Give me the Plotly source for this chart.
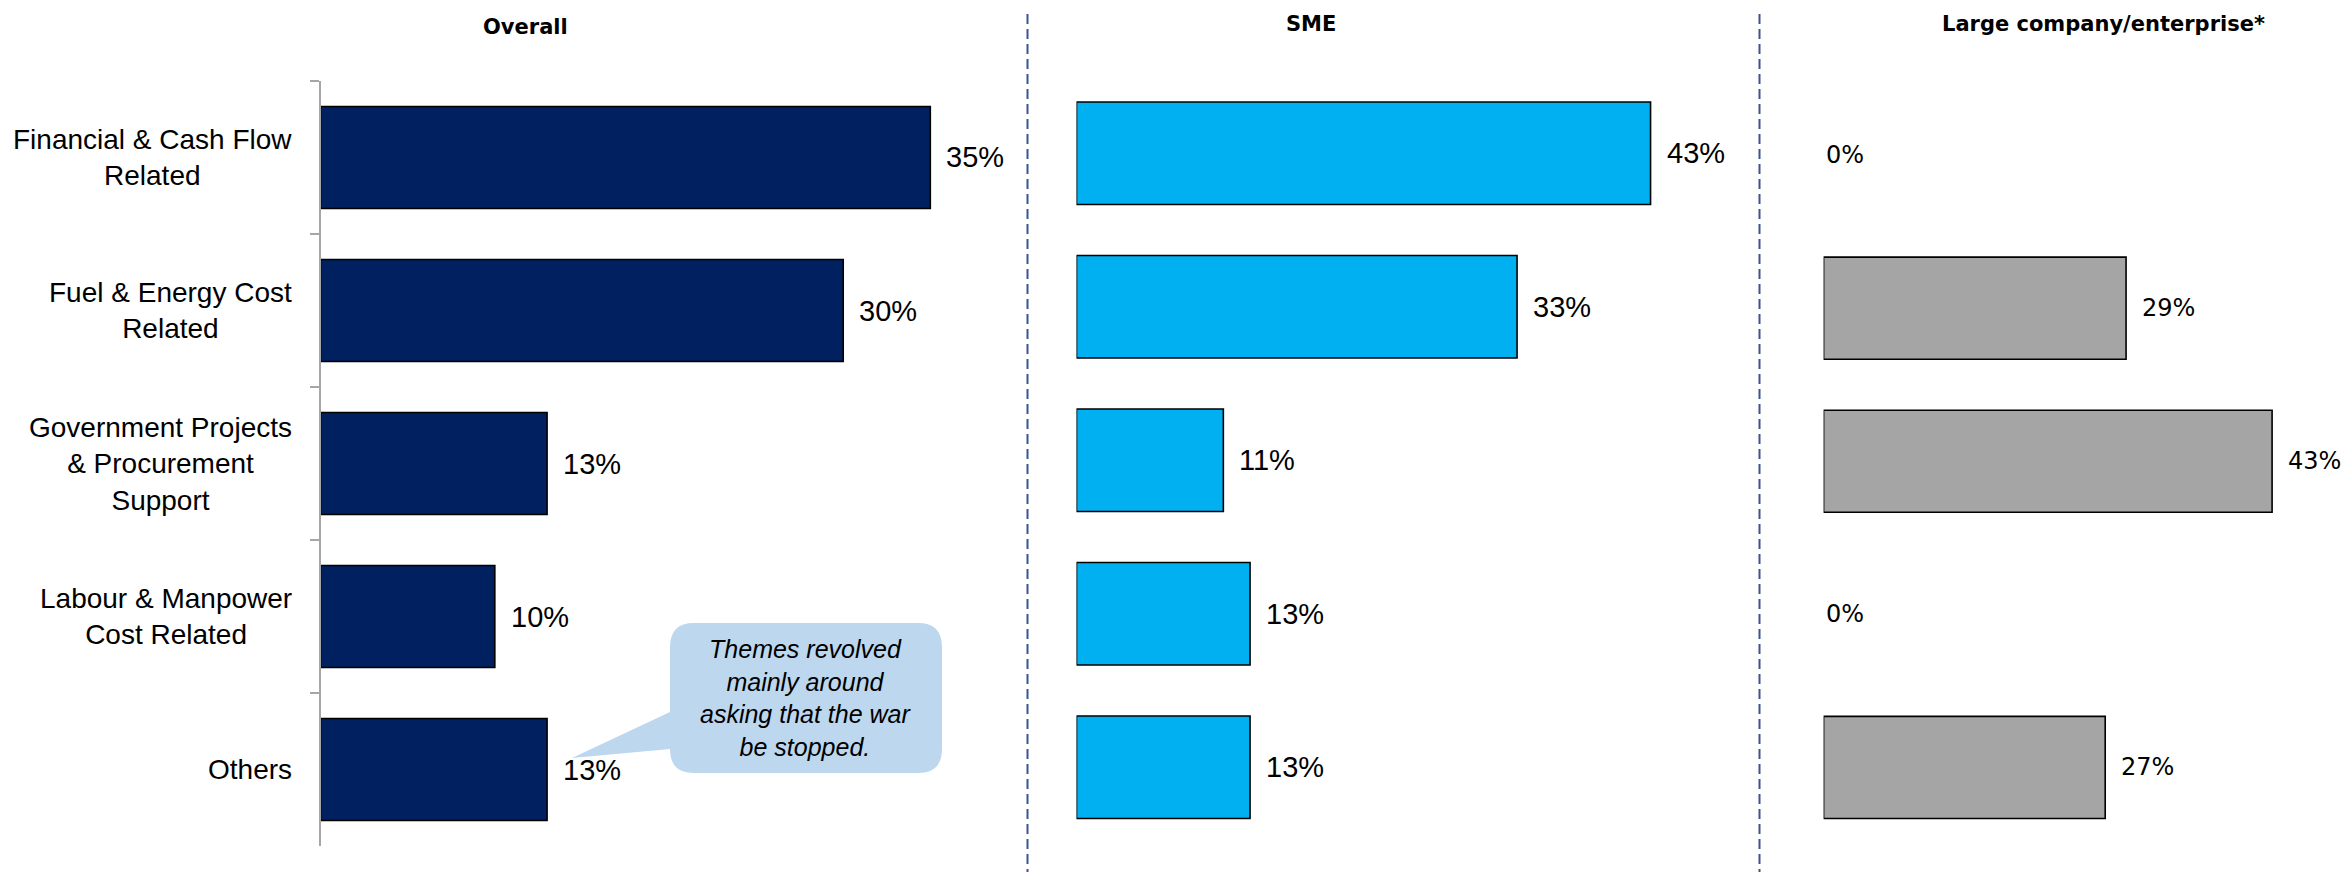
import plotly.graph_objects as go

# ---- data -------------------------------------------------------------
categories = [
    "Financial & Cash Flow<br>Related",
    "Fuel & Energy Cost<br>Related",
    "Government Projects<br>& Procurement<br>Support",
    "Labour & Manpower<br>Cost Related",
    "Others",
]
overall = [35, 30, 13, 10, 13]
sme = [43, 33, 11, 13, 13]
large = [0, 29, 43, 0, 27]

panel_titles = ["Overall", "SME", "Large company/enterprise*"]
callout_text = "Themes revolved<br>mainly around<br>asking that the war<br>be stopped."

# ---- page geometry (pixels) -------------------------------------------
W, H = 2348, 872


def fx(p):
    return p / W


def fy(p):
    return 1 - p / H


NAVY = "#002060"
CYAN = "#00B0F0"
GREY = "#A5A5A5"
SEP = "#3B5394"
AXIS_GREY = "#A6A6A6"

CAT_FONT = dict(family="Liberation Sans, Arial, sans-serif", size=28, color="black")
VALUE_FONT = dict(family="Liberation Sans, Arial, sans-serif", size=29, color="black")
LARGE_FONT = dict(family="DejaVu Sans, Verdana, sans-serif", size=24, color="black")
TITLE_FONT = dict(family="DejaVu Sans, Verdana, sans-serif", size=21, color="black")

# each panel: values, colour, x-domain in px, x-range, y-domain in px, label font
panels = [
    dict(values=overall, color=NAVY, xdom=(320.6, 1000.0), xmax=39.0, ydom=(81, 846), font=VALUE_FONT),
    dict(values=sme, color=CYAN, xdom=(1076.5, 1690.6), xmax=46.0, ydom=(76.5, 844), font=VALUE_FONT),
    dict(values=large, color=GREY, xdom=(1823.6, 2345.1), xmax=50.0, ydom=(78.5, 844), font=LARGE_FONT),
]

fig = go.Figure()
annotations = []

for i, p in enumerate(panels, start=1):
    xa = "x" if i == 1 else f"x{i}"
    ya = "y" if i == 1 else f"y{i}"
    vals = p["values"]
    fig.add_trace(
        go.Bar(
            x=vals,
            y=categories,
            orientation="h",
            xaxis=xa,
            yaxis=ya,
            marker=dict(
                color=p["color"],
                line=dict(color="black", width=[0 if v == 0 else 1.6 for v in vals]),
            ),
            hoverinfo="skip",
            showlegend=False,
        )
    )
    # value labels just beyond the bar ends
    for c, v in zip(categories, vals):
        annotations.append(
            dict(
                x=v, y=c, xref=xa, yref=ya,
                text=f"{v}%", showarrow=False,
                xanchor="left", yanchor="middle",
                xshift=14 if v > 0 else 0,
                font=p["font"],
            )
        )

    xkey = "xaxis" if i == 1 else f"xaxis{i}"
    ykey = "yaxis" if i == 1 else f"yaxis{i}"
    fig.update_layout(
        **{
            xkey: dict(
                domain=[fx(p["xdom"][0]), fx(p["xdom"][1])],
                range=[0, p["xmax"]],
                anchor=ya,
                visible=False,
                fixedrange=True,
            ),
            ykey: dict(
                domain=[fy(p["ydom"][1]), fy(p["ydom"][0])],
                range=[len(categories) - 0.5, -0.5],
                anchor=xa,
                type="category",
                categoryorder="array",
                categoryarray=categories,
                showticklabels=False,
                showgrid=False,
                zeroline=False,
                showline=(i == 1),
                linecolor=AXIS_GREY,
                linewidth=1.5,
                ticks="outside" if i == 1 else "",
                tickson="boundaries",
                ticklen=9,
                tickwidth=1.5,
                tickcolor=AXIS_GREY,
                fixedrange=True,
            ),
        }
    )

# category names to the left of the first panel
for c in categories:
    annotations.append(
        dict(
            x=fx(294), y=c, xref="paper", yref="y",
            text=c, showarrow=False,
            xanchor="right", yanchor="middle", align="center",
            font=CAT_FONT,
        )
    )

# panel headings
for t, cx, cy in zip(panel_titles, [525, 1311, 2103], [27, 24, 24]):
    annotations.append(
        dict(
            x=fx(cx), y=fy(cy), xref="paper", yref="paper",
            text=f"<b>{t}</b>", showarrow=False,
            xanchor="center", yanchor="middle",
            font=TITLE_FONT,
        )
    )

# dashed separators between panels
shapes = []
for sx in (1027.5, 1759.5):
    shapes.append(
        dict(
            type="line", xref="paper", yref="paper",
            x0=fx(sx), x1=fx(sx), y0=fy(14), y1=fy(872),
            line=dict(color=SEP, width=2, dash="10px,5px"),
        )
    )

# speech-bubble callout
L, R, T, B, r = 670, 942, 623, 773, 24
py1, py2 = 712, 749
tip = (572, 758)
pts = [
    ("M", [(L + r, T)]),
    ("L", [(R - r, T)]),
    ("Q", [(R, T), (R, T + r)]),
    ("L", [(R, B - r)]),
    ("Q", [(R, B), (R - r, B)]),
    ("L", [(L + r, B)]),
    ("Q", [(L, B), (L, B - r)]),
    ("L", [(L, py2)]),
    ("L", [tip]),
    ("L", [(L, py1)]),
    ("L", [(L, T + r)]),
    ("Q", [(L, T), (L + r, T)]),
]
path = ""
for cmd, coords in pts:
    path += cmd + " " + " ".join(f"{fx(a):.6f},{fy(b):.6f}" for a, b in coords) + " "
path += "Z"
shapes.append(
    dict(type="path", xref="paper", yref="paper", path=path,
         fillcolor="#BDD7EE", line=dict(width=0), layer="above")
)
annotations.append(
    dict(
        x=fx((L + R) / 2), y=fy((T + B) / 2), xref="paper", yref="paper",
        text=f"<i>{callout_text}</i>", showarrow=False,
        xanchor="center", yanchor="middle", align="center",
        font=dict(family="Liberation Sans, Arial, sans-serif", size=25, color="black"),
    )
)

fig.update_layout(
    width=W,
    height=H,
    margin=dict(l=0, r=0, t=0, b=0),
    paper_bgcolor="white",
    plot_bgcolor="white",
    bargap=0.333,
    annotations=annotations,
    shapes=shapes,
    showlegend=False,
)

fig.write_html("out.html", config={"displayModeBar": False})
